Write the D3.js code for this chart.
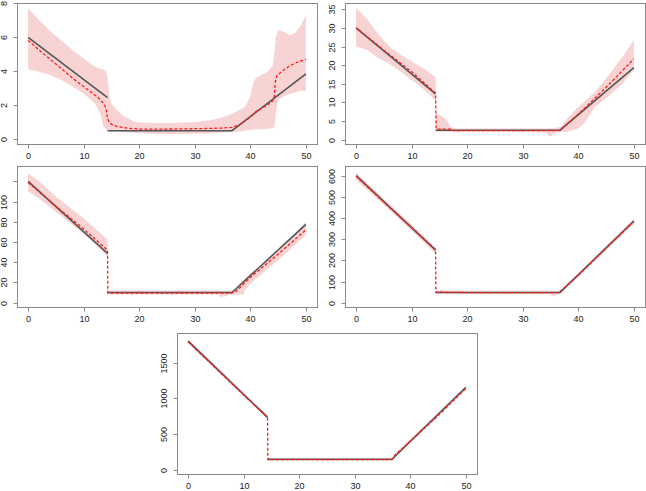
<!DOCTYPE html>
<html>
<head>
<meta charset="utf-8">
<script src="https://cdn.jsdelivr.net/npm/d3@7"></script>
<style>
  body { margin: 0; background: #fff; }
  svg { display: block; }
  .tick-label { font-family: "Liberation Sans", Arial, sans-serif; font-size: 9px; fill: #222; }
</style>
</head>
<body>
<div id="chart"></div>
<script>
// x ticks shared by every panel
var xTicks = [0, 10, 20, 30, 40, 50];

// true curve: left piece and right piece (x breakpoints)
var truthLeftX = [0, 14.3];
var truthRightX = [14.3, 36.7, 50];

// ---- panel 1
var truthLeft1 = [6.0, 2.45];
var truthRight1 = [0.5, 0.5, 3.85];
var estX1 = [0,2,4,6,8,10,12,12.5,13,13.5,14,14.3,14.7,15.2,16,17,18,20,25,30,35,36.7,38,40,41,43,44,44.3,44.5,44.8,46,47,48,49,50];
var estY1 = [5.82,5.25,4.7,4.15,3.6,3.1,2.6,2.5,2.3,2.15,1.85,1.2,0.95,0.85,0.75,0.7,0.65,0.6,0.6,0.62,0.66,0.7,0.84,1.3,1.63,2.0,2.25,2.5,3.4,3.75,4.08,4.3,4.47,4.6,4.7];
var bandX1 = [0,2,4,6,8,10,12,13,13.5,14,14.3,14.6,15,16,17,18,19,20,25,30,33,35,37,39,40,40.5,41,42,43,44,44.3,44.6,45,46,47,48,49,50];
var hi1 = [7.7,7.0,6.35,5.8,5.25,4.76,4.27,4.15,4.1,4.0,3.7,2.6,2.1,1.7,1.4,1.24,1.05,0.98,0.94,1.0,1.14,1.3,1.55,1.9,2.5,3.3,3.6,3.8,3.95,4.3,5.0,6.0,6.43,6.33,6.14,6.24,6.63,7.31];
var lo1 = [4.12,3.98,3.78,3.49,3.1,2.7,2.12,1.5,0.8,0.6,0.5,0.48,0.47,0.45,0.43,0.4,0.38,0.35,0.29,0.33,0.36,0.39,0.42,0.5,0.55,0.57,0.58,0.59,0.6,0.65,0.7,1.6,2.3,2.5,2.67,2.75,2.86,2.86];
var yTicks1 = [0, 2, 4, 6, 8];

// ---- panel 2
var truthLeft2 = [30, 12.3];
var truthRight2 = [2.5, 2.5, 19.3];
var estX2 = [0,5,10,14,14.3,14.4,15,17,17.2,25,30,36.5,37,40,45,50];
var estY2 = [30,24,18.2,12.9,12.4,2.9,2.8,2.8,2.4,2.4,2.4,2.4,2.9,6.8,14.0,21.7];
var bandX2 = [0,2,4,6,8,10,12,13,14,14.3,14.4,15,16,16.5,17,18,20,25,30,34,35,35.5,36,37,38,40,41,42,43,45,48,50];
var hi2 = [35.4,32.3,28.2,25,22.8,21,19.2,18.3,17.1,16.8,7.0,6.6,5.7,4.8,3.4,3.0,3.0,3.0,3.0,3.0,3.05,3.1,3.15,3.5,5.7,8.8,10,11.5,12.8,16.5,22.3,26.8];
var lo2 = [25,24.1,21.9,20.4,18.3,16.0,13.8,12.4,10.8,10.5,2.1,2.1,2.1,2.1,2.1,2.1,2.1,2.1,2.1,1.8,0.9,1.4,1.8,2.0,2.1,3.0,4.3,6.5,8.8,11.1,15.1,18.7];
var yTicks2 = [0, 5, 10, 15, 20, 25, 30, 35];

// ---- panel 3
var truthLeft3 = [120, 48.8];
var truthRight3 = [10, 10, 77.5];
var estX3 = [0,5,10,14.3,14.35,20,30,36.5,37.3,40,45,50];
var estY3 = [119,95.5,73,52,9.5,9.5,9.5,9.5,10.5,25,48,72];
var bandX3 = [0,2,5,8,10,12,14,14.3,14.35,20,30,34.3,34.6,35,35.5,36,36.7,37.5,38,38.8,39,40,45,50];
var hi3 = [128,120,105,92,83.5,73.6,63.7,62,12,12,12,12,11.5,11.5,12,12,12,14,19,23,24,29,50.5,80];
var lo3 = [110,103,90,77,68,58,47,46,8,8,8,8,5,6,6,7.5,8,8,8,8,12.5,19,42,67];
var yTicks3 = [0, 20, 40, 60, 80, 100, 120];
var yLabels3 = ["0", "20", "40", "60", "80", "100", ""];

// ---- panel 4
var truthLeft4 = [600, 248];
var truthRight4 = [48, 48, 386];
var estX4 = [0,5,10,14.3,14.35,20,30,36.5,40,45,50];
var estY4 = [597,475,355,252,50,48,48,48,130,258,383];
var bandX4 = [0,5,10,14,14.3,14.35,15,15.5,16,20,30,35,35.5,36,36.7,40,45,50];
var hi4 = [615,490,368,266,262,58,58,62,58,56,56,56,56,56,58,140,268,396];
var lo4 = [580,462,340,240,236,40,40,42,40,40,40,40,28,38,40,122,248,372];
var yTicks4 = [0, 100, 200, 300, 400, 500, 600];

// ---- panel 5
var truthLeft5 = [1800, 735];
var truthRight5 = [150, 150, 1155];
var estX5 = [0,5,10,14.3,14.35,20,30,36.7,37.3,38,40,45,50];
var estY5 = [1790,1420,1045,735,145,145,145,145,215,260,400,760,1140];
var bandX5 = [0,14.3,14.35,36.7,37.5,50];
var hi5 = [1825,760,165,165,250,1170];
var lo5 = [1770,715,130,130,200,1120];
var yTicks5 = [0, 500, 1000, 1500];

var svgWidth = 646;
var svgHeight = 491;

var panels = [
  { left: 17,  top: 3,   yDomain: [-0.28, 8.02], tL: truthLeft1, tR: truthRight1, ex: estX1, ey: estY1, bx: bandX1, hi: hi1, lo: lo1, yt: yTicks1 },
  { left: 345, top: 3,   yDomain: [-1.2, 36.7],  tL: truthLeft2, tR: truthRight2, ex: estX2, ey: estY2, bx: bandX2, hi: hi2, lo: lo2, yt: yTicks2 },
  { left: 17,  top: 166, yDomain: [-4.3, 135.3], tL: truthLeft3, tR: truthRight3, ex: estX3, ey: estY3, bx: bandX3, hi: hi3, lo: lo3, yt: yTicks3, yl: yLabels3 },
  { left: 345, top: 166, yDomain: [-20.3, 645.7], tL: truthLeft4, tR: truthRight4, ex: estX4, ey: estY4, bx: bandX4, hi: hi4, lo: lo4, yt: yTicks4 },
  { left: 177, top: 333, yDomain: [-56, 1913],   tL: truthLeft5, tR: truthRight5, ex: estX5, ey: estY5, bx: bandX5, hi: hi5, lo: lo5, yt: yTicks5 }
];

var boxW = 300, boxH = 141;

var svg = d3.select("#chart")
  .append("svg")
  .attr("width", svgWidth)
  .attr("height", svgHeight);

panels.forEach(function(p) {
  var g = svg.append("g")
    .attr("transform", `translate(${p.left}, ${p.top})`);

  var x = d3.scaleLinear().domain([-2, 52]).range([0, boxW]);
  var y = d3.scaleLinear().domain(p.yDomain).range([boxH, 0]);

  // confidence band
  var area = d3.area()
    .x(i => x(p.bx[i]))
    .y0(i => y(p.lo[i]))
    .y1(i => y(p.hi[i]));
  g.append("path")
    .attr("d", area(d3.range(p.bx.length)))
    .attr("fill", "#f7d3d3");

  // true curve, two pieces
  var line = d3.line().x(d => x(d[0])).y(d => y(d[1]));
  g.append("path")
    .attr("d", line(truthLeftX.map((v, i) => [v, p.tL[i]])))
    .attr("fill", "none")
    .attr("stroke", "#555")
    .attr("stroke-width", 1.6);
  g.append("path")
    .attr("d", line(truthRightX.map((v, i) => [v, p.tR[i]])))
    .attr("fill", "none")
    .attr("stroke", "#555")
    .attr("stroke-width", 1.6);

  // estimate
  g.append("path")
    .attr("d", line(p.ex.map((v, i) => [v, p.ey[i]])))
    .attr("fill", "none")
    .attr("stroke", "#ff1a1a")
    .attr("stroke-width", 1.3)
    .attr("stroke-dasharray", "3,2");

  // box
  g.append("rect")
    .attr("x", 0.5).attr("y", 0.5)
    .attr("width", boxW).attr("height", boxH)
    .attr("fill", "none")
    .attr("stroke", "#8a8a8a")
    .attr("stroke-width", 1);

  // x ticks
  xTicks.forEach(function(t) {
    var px = Math.round(x(t)) + 0.5;
    g.append("line")
      .attr("x1", px).attr("x2", px)
      .attr("y1", boxH + 0.5).attr("y2", boxH + 4.5)
      .attr("stroke", "#8a8a8a");
    g.append("text")
      .attr("class", "tick-label")
      .attr("x", px)
      .attr("y", boxH + 15)
      .attr("text-anchor", "middle")
      .text(t);
  });

  // y ticks, labels rotated like base R
  p.yt.forEach(function(t, i) {
    var py = Math.round(y(t)) + 0.5;
    g.append("line")
      .attr("x1", 0.5).attr("x2", -3.5)
      .attr("y1", py).attr("y2", py)
      .attr("stroke", "#8a8a8a");
    var lab = p.yl ? p.yl[i] : String(t);
    g.append("text")
      .attr("class", "tick-label")
      .attr("transform", `translate(-10, ${py}) rotate(-90)`)
      .attr("text-anchor", "middle")
      .text(lab);
  });
});
</script>
</body>
</html>
